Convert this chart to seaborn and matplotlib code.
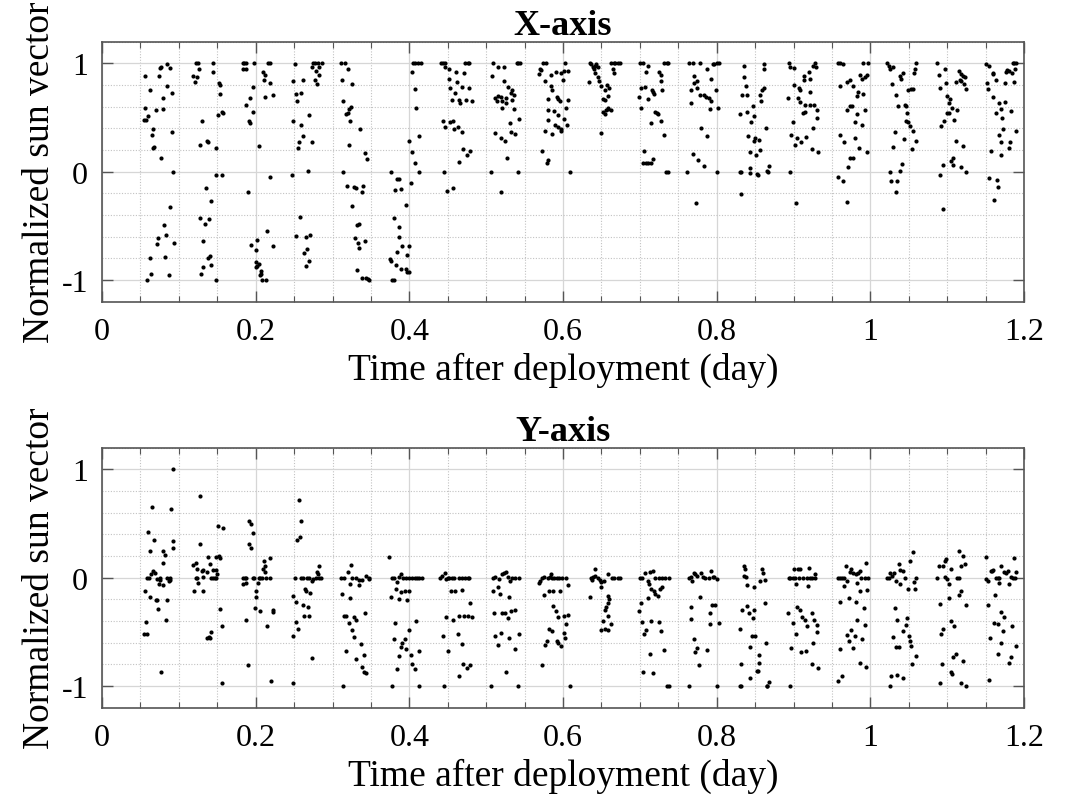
import matplotlib
matplotlib.use("Agg")
import matplotlib.pyplot as plt
import seaborn as sns
import pandas as pd
from matplotlib.ticker import MultipleLocator

# ---------------- data (time in days, normalized sun-vector component) ----------------
X_TICKS = [0, 0.2, 0.4, 0.6, 0.8, 1.0, 1.2]
X_TICK_LABELS = ["0", "0.2", "0.4", "0.6", "0.8", "1", "1.2"]
Y_TICKS = [-1, 0, 1]
Y_TICK_LABELS = ["-1", "0", "1"]
TITLES = ["X-axis", "Y-axis"]
XLABEL = "Time after deployment (day)"
YLABEL = "Normalized sun vector"

# X-axis component, one list per sunlit pass
XA_01 = [(.056,.88),(.074,.88),(.076,.96),(.077,.97),(.085,.99),(.088,.96),(.062,.75),(.084,.79),(.091,.73),(.080,.68),(.056,.59),(.060,.51),(.055,.48),(.057,.48),(.070,.57),(.079,.58),(.067,.39),(.065,.34),(.068,.23),(.067,.22),(.091,.37),(.077,.13),(.093,0),(.089,-.33),(.081,-.49),(.073,-.61),(.083,-.58),(.072,-.67),(.094,-.66),(.063,-.80),(.082,-.79),(.064,-.94),(.087,-.95),(.059,-1)]
XA_02 = [(.122,1),(.125,1),(.145,1),(.126,.95),(.144,.92),(.119,.88),(.123,.87),(.121,.83),(.152,.82),(.153,.80),(.154,.72),(.151,.52),(.156,.55),(.157,.54),(.130,.47),(.127,.25),(.136,.28),(.138,.27),(.149,.22),(.149,-.03),(.156,-.03),(.135,-.15),(.142,-.27),(.128,-.43),(.134,-.48),(.139,-.44),(.132,-.64),(.140,-.78),(.138,-.80),(.142,-.86),(.132,-.88),(.129,-.94),(.148,-1)]
XA_03 = [(.183,1),(.185,1),(.187,1),(.198,1),(.216,1),(.218,1),(.184,.95),(.188,.95),(.209,.92),(.212,.89),(.211,.85),(.218,.82),(.196,.78),(.192,.68),(.188,.62),(.222,.71),(.212,.69),(.197,.55),(.191,.47),(.193,.45),(.204,.24),(.190,-.19),(.219,-.05),(.215,-.55),(.194,-.68),(.200,-.72),(.202,-.63),(.222,-.69),(.200,-.83),(.204,-.85),(.202,-.87),(.201,-.88),(.207,-.92),(.207,-.94),(.206,-.95),(.208,-1),(.214,-1)]
XA_04 = [(.251,.99),(.274,1),(.277,1),(.281,1),(.286,1),(.273,.97),(.278,.93),(.282,.97),(.283,.89),(.280,.81),(.277,.85),(.249,.84),(.261,.85),(.252,.72),(.259,.73),(.254,.65),(.270,.52),(.249,.47),(.259,.43),(.262,.33),(.256,.27),(.255,.22),(.273,.27),(.268,.01),(.247,-.03),(.258,-.42),(.252,-.59),(.265,-.60),(.271,-.58),(.267,-.71),(.263,-.75),(.269,-.82),(.266,-.87)]
XA_05 = [(.311,1),(.316,1),(.320,.95),(.313,.85),(.325,.81),(.314,.65),(.324,.60),(.321,.58),(.320,.54),(.317,.53),(.323,.47),(.336,.39),(.321,.25),(.342,.17),(.345,.12),(.314,0),(.319,-.13),(.328,-.14),(.331,-.15),(.340,-.13),(.339,-.19),(.326,-.32),(.332,-.49),(.334,-.48),(.329,-.61),(.333,-.66),(.335,-.70),(.342,-.64),(.332,-.91),(.338,-.98),(.343,-.98),(.346,-.99),(.348,-1)]
XA_06 = [(.376,0),(.384,-.07),(.386,-.07),(.381,-.17),(.389,-.16),(.380,-.43),(.387,-.51),(.387,-.60),(.390,-.69),(.384,-.74),(.375,-.81),(.376,-.82),(.383,-.86),(.389,-.90),(.378,-1),(.380,-1),(.395,-.31),(.400,-.69),(.397,-.77),(.395,-.90),(.397,-.93),(.399,-.93),(.402,-.10),(.400,.28),(.404,.18),(.408,.08),(.413,0),(.413,.33),(.409,.59),(.407,.76),(.403,.92),(.405,1),(.408,1),(.411,1),(.415,1)]
XA_07 = [(.441,1),(.444,1),(.446,1),(.472,1),(.476,1),(.478,1),(.447,.97),(.451,.95),(.461,.92),(.471,.91),(.451,.86),(.462,.83),(.453,.77),(.459,.73),(.468,.78),(.478,.77),(.455,.66),(.465,.66),(.466,.63),(.474,.66),(.481,.65),(.444,.47),(.447,.41),(.453,.46),(.458,.39),(.457,.47),(.463,.41),(.469,.37),(.470,.21),(.479,.19),(.475,.15),(.465,.09),(.445,0),(.449,-.18),(.457,-.15)]
XA_08 = [(.509,1),(.540,1),(.542,1),(.544,1),(.515,.97),(.523,.97),(.508,.88),(.523,.84),(.529,.78),(.534,.75),(.532,.73),(.536,.71),(.511,.68),(.516,.70),(.519,.69),(.514,.65),(.521,.65),(.526,.68),(.533,.66),(.526,.63),(.536,.58),(.520,.59),(.543,.49),(.531,.45),(.512,.36),(.532,.37),(.537,.35),(.519,.31),(.524,.28),(.527,.13),(.506,0),(.542,0),(.519,-.19)]
XA_09 = [(.574,1),(.578,1),(.603,1),(.570,.95),(.571,.94),(.584,.89),(.591,.92),(.597,.91),(.601,.93),(.606,.93),(.569,.90),(.576,.84),(.600,.85),(.584,.79),(.586,.75),(.580,.67),(.592,.69),(.594,.67),(.596,.65),(.607,.66),(.604,.59),(.581,.57),(.588,.56),(.594,.52),(.601,.49),(.581,.48),(.590,.43),(.593,.41),(.597,.39),(.605,.43),(.576,.38),(.586,.35),(.598,.38),(.573,.19),(.581,.11),(.579,.08),(.609,0)]
XA_10 = [(.635,1),(.637,.99),(.639,.97),(.642,.98),(.645,.97),(.640,.95),(.643,.99),(.663,1),(.666,1),(.668,1),(.671,1),(.674,1),(.665,.95),(.667,.91),(.642,.91),(.646,.87),(.647,.84),(.634,.83),(.649,.79),(.657,.80),(.660,.77),(.655,.75),(.658,.70),(.652,.67),(.654,.66),(.659,.59),(.658,.58),(.656,.57),(.662,.57),(.652,.55),(.655,.53),(.650,.36)]
XA_11 = [(.700,1),(.704,1),(.710,.98),(.732,1),(.735,1),(.737,1),(.708,.92),(.725,.92),(.728,.89),(.727,.84),(.701,.77),(.707,.78),(.716,.75),(.717,.74),(.719,.72),(.729,.75),(.699,.69),(.710,.67),(.702,.59),(.720,.55),(.722,.54),(.723,.53),(.727,.47),(.714,.45),(.731,.34),(.706,.19),(.704,.08),(.708,.08),(.710,.08),(.714,.08),(.717,.12),(.734,0),(.737,0)]
XA_12 = [(.764,1),(.769,1),(.778,1),(.787,.95),(.771,.88),(.774,.84),(.770,.82),(.775,.77),(.767,.75),(.778,.71),(.784,.71),(.786,.69),(.766,.63),(.779,.40),(.787,.33),(.769,.16),(.776,.11),(.783,.05),(.762,0),(.773,-.29),(.790,.68),(.791,.58),(.792,.65),(.793,.86),(.795,.99),(.797,.99),(.800,1),(.803,1),(.799,.75),(.802,.59),(.800,0)]
XA_13 = [(.835,.98),(.861,.99),(.861,.95),(.836,.87),(.838,.79),(.833,.71),(.839,.71),(.862,.77),(.859,.75),(.857,.71),(.858,.65),(.847,.61),(.830,.53),(.840,.55),(.848,.51),(.845,.46),(.864,.40),(.841,.33),(.850,.31),(.855,.29),(.849,.28),(.856,.20),(.843,.18),(.851,.15),(.868,.05),(.830,0),(.832,0),(.843,.03),(.844,-.01),(.853,-.02),(.854,-.03),(.865,.01),(.867,0),(.831,-.21)]
XA_14 = [(.894,1),(.900,.96),(.896,.97),(.928,1),(.929,.97),(.920,.92),(.913,.88),(.913,.85),(.921,.86),(.925,.98),(.900,.80),(.907,.77),(.908,.75),(.921,.74),(.893,.68),(.906,.68),(.909,.64),(.915,.62),(.922,.62),(.926,.62),(.930,.57),(.915,.55),(.912,.54),(.899,.46),(.930,.50),(.925,.40),(.897,.34),(.904,.31),(.902,.25),(.910,.27),(.916,.32),(.924,.21),(.932,.18),(.895,0),(.903,-.29)]
XA_15 = [(.958,1),(.960,1),(.965,.99),(.990,1),(.997,1),(.987,.89),(.989,.86),(.996,.89),(.993,.87),(.991,.72),(.961,.79),(.969,.83),(.974,.85),(.978,.79),(.984,.74),(.982,.70),(.974,.61),(.970,.57),(.976,.61),(.993,.57),(.983,.53),(.980,.46),(.989,.43),(.960,.34),(.966,.27),(.980,.31),(.985,.22),(.995,.18),(.974,.13),(.977,.13),(.971,.04),(.958,-.05),(.964,-.09),(.969,-.28)]
XA_16 = [(1.022,1),(1.024,.98),(1.026,.95),(1.030,.97),(1.060,1),(1.058,.95),(1.057,.91),(1.028,.81),(1.040,.86),(1.039,.88),(1.042,.91),(1.049,.75),(1.053,.76),(1.056,.76),(1.034,.71),(1.036,.61),(1.045,.62),(1.046,.61),(1.048,.54),(1.047,.47),(1.049,.46),(1.052,.42),(1.056,.38),(1.032,.37),(1.044,.30),(1.059,.28),(1.030,.23),(1.054,.21),(1.041,.07),(1.038,.01),(1.025,0),(1.027,-.09),(1.035,-.09),(1.033,-.19)]
XA_17 = [(1.087,1),(1.097,.95),(1.089,.89),(1.090,.77),(1.098,.82),(1.100,.70),(1.104,.67),(1.102,.63),(1.106,.59),(1.100,.54),(1.102,.54),(1.109,.48),(1.113,.57),(1.115,.93),(1.118,.90),(1.121,.88),(1.123,.87),(1.117,.85),(1.112,.83),(1.122,.81),(1.125,.76),(1.118,.84),(1.096,.47),(1.092,.42),(1.111,.28),(1.121,.24),(1.108,.13),(1.105,.10),(1.094,.06),(1.108,.06),(1.118,.04),(1.125,0),(1.091,-.03),(1.094,-.34)]
XA_18 = [(1.151,.99),(1.154,.98),(1.159,.90),(1.160,.91),(1.163,.85),(1.152,.82),(1.153,.76),(1.160,.69),(1.167,.63),(1.163,.54),(1.170,.58),(1.175,.64),(1.175,.82),(1.177,.92),(1.178,.94),(1.180,.93),(1.184,.91),(1.186,1),(1.187,1),(1.189,1),(1.188,.95),(1.187,.83),(1.183,.56),(1.171,.50),(1.173,.39),(1.168,.34),(1.170,.27),(1.182,.27),(1.180,.22),(1.190,.38),(1.157,.19),(1.170,.15),(1.155,-.06),(1.165,-.08),(1.166,-.14),(1.161,-.26)]

# Y-axis component, one list per sunlit pass
YA_01 = [(.092,1),(.065,.65),(.090,.63),(.060,.42),(.068,.35),(.093,.34),(.062,.25),(.079,.25),(.082,.21),(.080,.14),(.093,.27),(.067,.06),(.069,.04),(.064,.03),(.059,0),(.061,0),(.071,-.01),(.076,0),(.076,-.02),(.085,0),(.088,0),(.089,-.02),(.087,-.03),(.074,-.06),(.080,-.07),(.056,-.12),(.063,-.18),(.070,-.21),(.072,-.21),(.084,-.21),(.073,-.29),(.083,-.39),(.057,-.41),(.055,-.52),(.058,-.52),(.077,-.87)]
YA_02 = [(.127,.75),(.128,.31),(.119,.12),(.122,.14),(.138,.19),(.149,.19),(.152,.20),(.153,.18),(.151,.48),(.158,.46),(.123,.08),(.130,.06),(.132,.07),(.136,.05),(.141,.13),(.144,.07),(.148,.07),(.122,0),(.124,0),(.132,.01),(.142,0),(.145,0),(.147,0),(.148,0),(.150,.03),(.125,-.05),(.120,-.12),(.132,-.12),(.154,-.29),(.156,-.45),(.142,-.50),(.139,-.55),(.137,-.56),(.140,-.56),(.156,-.97)]
YA_03 = [(.191,.52),(.194,.50),(.197,.41),(.191,.31),(.194,.27),(.184,0),(.186,0),(.188,0),(.196,0),(.198,0),(.204,0),(.206,0),(.208,0),(.213,0),(.218,0),(.184,-.06),(.188,-.05),(.203,-.05),(.201,-.12),(.200,-.18),(.199,-.28),(.205,-.31),(.212,.05),(.210,.08),(.212,.11),(.211,.15),(.218,.18),(.222,-.30),(.222,-.32),(.187,-.39),(.215,-.45),(.190,-.81),(.220,-.95)]
YA_04 = [(.256,.72),(.259,.52),(.258,.38),(.254,.35),(.251,0),(.259,0),(.261,0),(.267,0),(.269,0),(.273,-.03),(.275,-.01),(.279,0),(.282,0),(.285,0),(.280,.05),(.283,.11),(.281,.03),(.264,-.10),(.266,-.12),(.271,-.14),(.249,-.17),(.253,-.22),(.262,-.25),(.268,-.27),(.263,-.35),(.270,-.35),(.252,-.41),(.255,-.47),(.249,-.54),(.273,-.74),(.248,-.97)]
YA_05 = [(.324,.12),(.320,.05),(.311,0),(.315,0),(.325,0),(.331,0),(.334,-.02),(.335,-.07),(.338,-.02),(.343,.02),(.347,-.01),(.348,0),(.323,-.06),(.313,-.15),(.323,-.19),(.315,-.35),(.317,-.35),(.321,-.42),(.328,-.36),(.331,-.39),(.342,-.33),(.326,-.48),(.328,-.55),(.337,-.61),(.318,-.68),(.330,-.75),(.341,-.71),(.339,-.82),(.341,-.87),(.344,-.88),(.314,-1)]
YA_06 = [(.374,.19),(.378,0),(.380,0),(.384,-.04),(.383,-.10),(.376,-.18),(.387,-.20),(.389,-.13),(.381,-.42),(.380,-.57),(.390,-.60),(.386,-.72),(.384,-.84),(.377,-1),(.396,0),(.400,0),(.403,0),(.407,0),(.410,0),(.413,0),(.416,0),(.400,-.12),(.397,-.21),(.409,-.40),(.399,-.48),(.396,-.66),(.402,-.71),(.413,-.68),(.404,-.80),(.407,-.84),(.412,-1),(.389,.03),(.386,.01),(.392,0),(.394,-.12),(.389,-.64),(.394,-.57)]
YA_07 = [(.440,0),(.442,.02),(.446,.04),(.448,-.01),(.450,0),(.452,0),(.455,0),(.458,0),(.465,0),(.469,0),(.472,0),(.476,0),(.478,0),(.454,-.12),(.459,-.12),(.468,-.11),(.479,-.23),(.448,-.36),(.457,-.39),(.464,-.35),(.471,-.35),(.476,-.35),(.481,-.36),(.444,-.54),(.463,-.52),(.469,-.61),(.450,-.68),(.464,-.91),(.470,-.80),(.475,-.83),(.479,-.81),(.445,-1)]
YA_08 = [(.509,0),(.511,.01),(.517,-.01),(.520,.03),(.523,.04),(.526,.05),(.529,.01),(.531,-.03),(.534,0),(.537,0),(.543,0),(.515,-.09),(.509,-.12),(.518,-.15),(.530,-.18),(.510,-.33),(.521,-.33),(.525,-.33),(.528,-.37),(.532,-.31),(.537,-.30),(.530,-.56),(.543,-.52),(.512,-.54),(.519,-.51),(.516,-.62),(.537,-.66),(.526,-.87),(.506,-1),(.542,-1)]
YA_09 = [(.573,0),(.575,.01),(.580,0),(.583,.01),(.586,0),(.588,0),(.592,0),(.595,0),(.599,0),(.604,0),(.584,.03),(.570,-.03),(.569,-.05),(.575,-.16),(.582,-.12),(.587,-.12),(.596,-.12),(.606,-.07),(.587,-.26),(.591,-.31),(.594,-.36),(.604,-.43),(.601,-.35),(.607,-.34),(.582,-.47),(.586,-.49),(.601,-.51),(.579,-.58),(.592,-.58),(.577,-.62),(.594,-.60),(.598,-.63),(.603,-.56),(.572,-.81),(.609,-1)]
YA_10 = [(.641,.08),(.636,0),(.639,.01),(.642,.02),(.645,0),(.648,-.02),(.650,-.04),(.653,-.03),(.664,0),(.667,0),(.671,0),(.674,0),(.658,.03),(.638,-.02),(.635,-.18),(.649,-.09),(.658,-.17),(.660,-.20),(.659,-.23),(.656,-.27),(.654,-.30),(.658,-.35),(.662,-.43),(.652,-.40),(.650,-.48),(.654,-.47),(.658,-.48)]
YA_11 = [(.700,0),(.703,0),(.707,.04),(.710,-.03),(.713,.05),(.717,.06),(.720,0),(.725,0),(.729,0),(.733,0),(.738,0),(.712,-.06),(.714,-.10),(.718,-.12),(.720,-.15),(.723,-.17),(.726,-.10),(.729,-.09),(.711,-.19),(.701,-.23),(.699,-.31),(.703,-.41),(.714,-.40),(.725,-.41),(.728,-.49),(.708,-.48),(.705,-.52),(.713,-.70),(.731,-.67),(.704,-.87),(.717,-.88),(.735,-1),(.738,-1)]
YA_12 = [(.764,0),(.767,.01),(.770,.04),(.772,.03),(.775,.02),(.779,.04),(.782,.01),(.785,0),(.768,-.03),(.778,-.18),(.767,-.27),(.766,-.38),(.770,-.57),(.775,-.65),(.772,-.69),(.777,-.81),(.764,-1),(.790,0),(.792,.06),(.795,.01),(.797,.01),(.801,-.01),(.794,-.25),(.798,-.25),(.791,-.33),(.803,-.42),(.791,-.43),(.788,-.67),(.800,-1)]
YA_13 = [(.836,.11),(.837,.08),(.835,.02),(.838,.01),(.840,-.07),(.848,-.09),(.859,.08),(.860,.04),(.857,-.03),(.863,-.02),(.840,-.26),(.833,-.30),(.842,-.33),(.847,-.37),(.849,-.30),(.863,-.23),(.830,-.47),(.846,-.54),(.850,-.54),(.843,-.64),(.864,-.60),(.855,-.71),(.855,-.79),(.852,-.86),(.854,-.86),(.832,-.80),(.844,-.93),(.830,-1),(.832,-1),(.865,-1),(.866,-1),(.868,-.96)]
YA_14 = [(.894,0),(.896,0),(.899,0),(.902,0),(.907,0),(.912,0),(.917,0),(.921,0),(.924,0),(.928,0),(.901,.08),(.906,.08),(.909,.08),(.920,.09),(.928,.03),(.903,-.06),(.919,-.08),(.893,-.33),(.904,-.27),(.908,-.30),(.911,-.36),(.915,-.39),(.924,-.33),(.927,-.39),(.917,-.45),(.931,-.44),(.899,-.42),(.903,-.52),(.930,-.50),(.925,-.60),(.897,-.65),(.910,-.69),(.916,-.68),(.924,-.80),(.932,-.83),(.895,-1)]
YA_15 = [(.958,0),(.960,0),(.963,0),(.966,0),(.968,.11),(.970,-.03),(.973,.05),(.975,.08),(.977,.04),(.981,.03),(.984,.04),(.987,.06),(.988,0),(.993,0),(.997,0),(.994,.14),(.982,-.05),(.966,-.08),(.986,-.12),(.996,-.11),(.992,-.28),(.961,-.22),(.972,-.19),(.981,-.22),(.993,-.44),(.983,-.39),(.975,-.48),(.969,-.53),(.972,-.58),(.980,-.54),(.989,-.57),(.977,-.65),(.960,-.66),(.986,-.79),(.994,-.82),(.958,-.95),(.963,-.91)]
YA_16 = [(1.022,0),(1.024,0),(1.026,.04),(1.028,.02),(1.031,.04),(1.034,-.03),(1.037,.13),(1.039,-.06),(1.042,.06),(1.045,0),(1.049,-.10),(1.052,.15),(1.055,.24),(1.058,-.10),(1.060,0),(1.057,-.04),(1.039,.07),(1.032,-.28),(1.035,-.39),(1.048,-.37),(1.043,-.49),(1.047,-.44),(1.050,-.54),(1.052,-.58),(1.053,-.63),(1.059,-.72),(1.029,-.55),(1.033,-.64),(1.037,-.64),(1.054,-.80),(1.027,-.91),(1.035,-.90),(1.042,-.93),(1.025,-1)]
YA_17 = [(1.087,0),(1.089,.11),(1.095,.11),(1.097,.15),(1.098,.17),(1.097,.01),(1.100,-.01),(1.102,-.06),(1.105,.08),(1.113,0),(1.115,0),(1.118,.11),(1.116,.25),(1.121,.20),(1.123,.13),(1.118,-.12),(1.116,-.16),(1.103,-.19),(1.125,-.25),(1.090,-.24),(1.092,-.52),(1.094,-.47),(1.105,-.40),(1.109,-.45),(1.093,-.80),(1.108,-.73),(1.111,-.70),(1.121,-.77),(1.106,-.89),(1.105,-.87),(1.090,-.97),(1.118,-.97),(1.125,-1)]
YA_18 = [(1.151,.19),(1.150,-.01),(1.153,-.03),(1.157,.06),(1.158,.06),(1.160,.07),(1.163,0),(1.166,0),(1.167,-.05),(1.168,0),(1.170,.11),(1.174,.05),(1.176,.04),(1.179,.06),(1.180,-.06),(1.183,.01),(1.186,0),(1.188,0),(1.187,.18),(1.190,.05),(1.162,-.16),(1.153,-.25),(1.170,-.32),(1.174,-.36),(1.161,-.42),(1.166,-.43),(1.173,-.49),(1.184,-.45),(1.190,-.63),(1.156,-.56),(1.170,-.60),(1.166,-.70),(1.183,-.73),(1.181,-.79),(1.155,-.94)]

X_PASSES = [XA_01, XA_02, XA_03, XA_04, XA_05, XA_06, XA_07, XA_08, XA_09,
            XA_10, XA_11, XA_12, XA_13, XA_14, XA_15, XA_16, XA_17, XA_18]
Y_PASSES = [YA_01, YA_02, YA_03, YA_04, YA_05, YA_06, YA_07, YA_08, YA_09,
            YA_10, YA_11, YA_12, YA_13, YA_14, YA_15, YA_16, YA_17, YA_18]


def to_frame(passes):
    rows = [pt for p in passes for pt in p]
    return pd.DataFrame(rows, columns=["time", "value"])


# ---------------- styling ----------------
sns.set_theme(style="white")
plt.rcParams["font.family"] = ["Liberation Serif", "DejaVu Serif"]
plt.rcParams["axes.unicode_minus"] = False
plt.rcParams["text.color"] = "black"
plt.rcParams["axes.labelcolor"] = "black"
plt.rcParams["axes.titlecolor"] = "black"

FRAME = "#555555"

fig = plt.figure(figsize=(10.76, 8.04), dpi=100)
ax_top = fig.add_axes([0.0948, 0.6235, 0.8569, 0.3234])
ax_bot = fig.add_axes([0.0948, 0.1185, 0.8569, 0.3234])

for ax, passes, title in [(ax_top, X_PASSES, TITLES[0]), (ax_bot, Y_PASSES, TITLES[1])]:
    df = to_frame(passes)
    sns.scatterplot(data=df, x="time", y="value", ax=ax, color="black",
                    s=9, linewidth=0, marker="o", legend=False, zorder=3)
    ax.set_xlim(0, 1.2)
    ax.set_ylim(-1.2, 1.2)
    ax.set_xticks(X_TICKS)
    ax.set_xticklabels(X_TICK_LABELS)
    ax.set_yticks(Y_TICKS)
    ax.set_yticklabels(Y_TICK_LABELS)
    ax.xaxis.set_minor_locator(MultipleLocator(0.05))
    ax.yaxis.set_minor_locator(MultipleLocator(0.2))
    ax.set_axisbelow(True)
    ax.grid(True, which="major", color="#d6d6d6", linewidth=0.9, linestyle="-")
    ax.grid(True, which="minor", color="#c2c2c2", linewidth=0.8, linestyle=(0, (1, 1.5)))
    ax.tick_params(which="both", direction="in", top=True, right=True,
                   bottom=True, left=True, color=FRAME, labelcolor="black")
    ax.tick_params(which="major", length=8, width=1.0, labelsize=23)
    ax.tick_params(axis="x", which="major", pad=11)
    ax.tick_params(axis="y", which="major", pad=10)
    ax.tick_params(axis="x", which="minor", length=4, width=0.8)
    ax.tick_params(axis="y", which="minor", length=0)
    for sp in ax.spines.values():
        sp.set_color(FRAME)
        sp.set_linewidth(1.2)
    ax.set_title(title, fontsize=26, fontweight="bold", pad=1, color="black")
    ax.set_xlabel(XLABEL, fontsize=27, labelpad=4, color="black")
    ax.set_ylabel(YLABEL, fontsize=27, labelpad=3, color="black")

fig.savefig("out.png", dpi=100)
